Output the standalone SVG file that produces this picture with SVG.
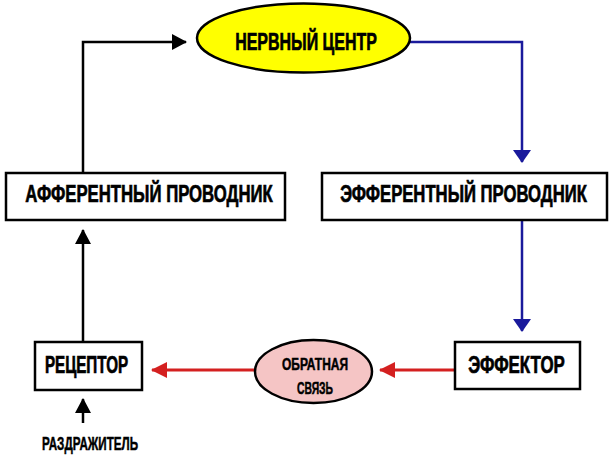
<svg xmlns="http://www.w3.org/2000/svg" width="614" height="459" viewBox="0 0 614 459">
<style>
.t{font-family:"Liberation Sans","DejaVu Sans",sans-serif;font-weight:bold;fill:#000;stroke:#000;stroke-width:0.7;text-anchor:middle;}
.box{fill:#fff;stroke:#000;stroke-width:2.5;}
.blk{fill:none;stroke:#000;stroke-width:2.5;}
.blu{fill:none;stroke:#1a1a9c;stroke-width:2.5;}
.red{fill:none;stroke:#d42020;stroke-width:3;}
</style>
<defs>
<marker id="ab" markerUnits="userSpaceOnUse" markerWidth="16" markerHeight="18" refX="14" refY="9" orient="auto"><path d="M0,1 L15,9 L0,17 Z" fill="#000"/></marker>
<marker id="au" markerUnits="userSpaceOnUse" markerWidth="20" markerHeight="20" refX="12" refY="10" orient="auto"><path d="M0,1 L13,10 L0,19 Z" fill="#1a1a9c"/></marker>
<marker id="ar" markerUnits="userSpaceOnUse" markerWidth="18" markerHeight="18" refX="15" refY="9" orient="auto"><path d="M0,1 L16,9 L0,17 Z" fill="#d42020"/></marker>
</defs>
<rect width="614" height="459" fill="#fff"/>
<g id="connectors">
<path class="blk" d="M83,173 V42 H186" marker-end="url(#ab)"/>
<path class="blu" d="M410,42 H522 V162" marker-end="url(#au)"/>
<path class="blu" d="M522,220 V331" marker-end="url(#au)"/>
<path class="red" d="M455,370 H380" marker-end="url(#ar)"/>
<path class="red" d="M255,370 H152" marker-end="url(#ar)"/>
<path class="blk" d="M83,342 V230" marker-end="url(#ab)"/>
<path class="blk" d="M83,423 V399" marker-end="url(#ab)"/>
</g>
<g id="nerve-center">
<ellipse cx="303.5" cy="38" rx="106.5" ry="34.5" fill="#ffff00" stroke="#000" stroke-width="2.5"/>
<text class="t" transform="translate(306,50) scale(0.75,1)" font-size="24" textLength="189" lengthAdjust="spacingAndGlyphs">НЕРВНЫЙ ЦЕНТР</text>
</g>
<g id="afferent">
<rect class="box" x="6" y="173" width="279" height="47"/>
<text class="t" transform="translate(149,202) scale(0.75,1)" font-size="24" textLength="330" lengthAdjust="spacingAndGlyphs">АФФЕРЕНТНЫЙ ПРОВОДНИК</text>
</g>
<g id="efferent">
<rect class="box" x="322" y="173" width="285" height="47"/>
<text class="t" transform="translate(463.5,202) scale(0.75,1)" font-size="24" textLength="329" lengthAdjust="spacingAndGlyphs">ЭФФЕРЕНТНЫЙ ПРОВОДНИК</text>
</g>
<g id="receptor">
<rect class="box" x="35" y="342" width="107" height="48"/>
<text class="t" transform="translate(86.5,373) scale(0.75,1)" font-size="23" textLength="111" lengthAdjust="spacingAndGlyphs">РЕЦЕПТОР</text>
</g>
<g id="feedback">
<ellipse cx="313.5" cy="371.5" rx="58.5" ry="31.5" fill="#f5c5c5" stroke="#000" stroke-width="2.5"/>
<text class="t" transform="translate(315,370) scale(0.75,1)" font-size="16" textLength="88" lengthAdjust="spacingAndGlyphs" style="stroke-width:0.5">ОБРАТНАЯ</text>
<text class="t" transform="translate(315,394) scale(0.75,1)" font-size="16" textLength="48" lengthAdjust="spacingAndGlyphs" style="stroke-width:0.5">СВЯЗЬ</text>
</g>
<g id="effector">
<rect class="box" x="455" y="342" width="125" height="47"/>
<text class="t" transform="translate(516.5,373) scale(0.75,1)" font-size="23" textLength="129" lengthAdjust="spacingAndGlyphs">ЭФФЕКТОР</text>
</g>
<g id="stimulus">
<text class="t" transform="translate(90,450) scale(0.75,1)" font-size="18" textLength="128" lengthAdjust="spacingAndGlyphs" style="stroke-width:0.5">РАЗДРАЖИТЕЛЬ</text>
</g>
</svg>
